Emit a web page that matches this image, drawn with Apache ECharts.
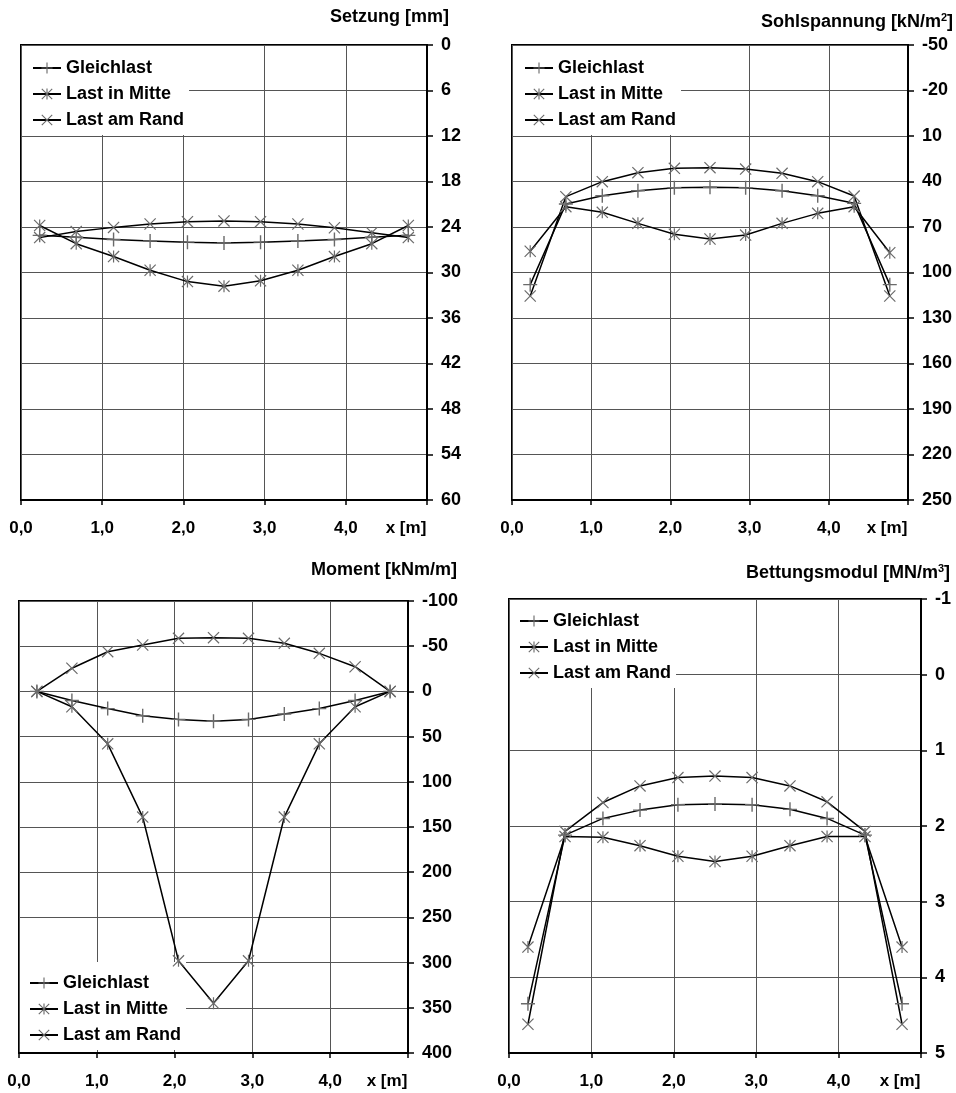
<!DOCTYPE html>
<html>
<head>
<meta charset="utf-8">
<script src="https://cdn.jsdelivr.net/npm/echarts@6/dist/echarts.min.js"></script>
<style>
html,body{margin:0;padding:0;background:#fff;}
#chart{width:956px;height:1093px;}
</style>
</head>
<body>
<div id="chart"></div>
<script>
// ---------- data ----------
const seriesNames = ['Gleichlast', 'Last in Mitte', 'Last am Rand'];
const xs = [0.23, 0.68, 1.14, 1.59, 2.05, 2.50, 2.95, 3.41, 3.86, 4.32, 4.77];
const xTickLabels = ['0,0', '1,0', '2,0', '3,0', '4,0', 'x [m]'];

// Setzung [mm]
const setzGleich = [25.1, 25.35, 25.65, 25.85, 26.0, 26.1, 26.0, 25.85, 25.65, 25.35, 25.1];
const setzMitte  = [23.8, 26.2, 27.9, 29.7, 31.2, 31.8, 31.1, 29.7, 27.9, 26.2, 23.8];
const setzRand   = [25.4, 24.6, 24.05, 23.6, 23.3, 23.2, 23.3, 23.6, 24.1, 24.75, 25.4];
const setzTicks  = [0, 6, 12, 18, 24, 30, 36, 42, 48, 54, 60];

// Sohlspannung [kN/m2]
const sohlGleich = [108, 54.8, 49.4, 46.1, 44.1, 43.8, 44.1, 46.1, 49.4, 54.4, 108];
const sohlMitte  = [86, 56.6, 60.3, 67.6, 74.8, 77.9, 75.3, 67.6, 61.0, 56.6, 87];
const sohlRand   = [115.5, 50.0, 40.1, 34.2, 31.3, 30.9, 31.8, 34.6, 40.1, 49.6, 115.5];
const sohlTicks  = [-50, -20, 10, 40, 70, 100, 130, 160, 190, 220, 250];

// Moment [kNm/m]
const momGleich = [0, 10, 19, 27, 31, 33, 31, 25, 19, 10, 0];
const momMitte  = [0, 17, 58, 139, 298, 345, 298, 139, 58, 17, 0];
const momRand   = [0, -25.6, -43.9, -51.3, -58.7, -59.4, -58.7, -53.2, -42.1, -27.3, 0];
const momTicks  = [-100, -50, 0, 50, 100, 150, 200, 250, 300, 350, 400];

// Bettungsmodul [MN/m3]
const betGleich = [4.35, 2.12, 1.90, 1.79, 1.72, 1.71, 1.72, 1.78, 1.90, 2.12, 4.35];
const betMitte  = [3.60, 2.14, 2.15, 2.26, 2.40, 2.47, 2.40, 2.26, 2.14, 2.14, 3.60];
const betRand   = [4.62, 2.07, 1.69, 1.47, 1.36, 1.34, 1.36, 1.47, 1.68, 2.07, 4.62];
const betTicks  = [-1, 0, 1, 2, 3, 4, 5];

// ---------- styling ----------
const FONT = '"Liberation Sans", Arial, sans-serif';
const PLUS  = 'path://M4.5,0L5.5,0L5.5,10L4.5,10Z M0,4.5L10,4.5L10,5.5L0,5.5Z';
const CROSS = 'path://M0,0.7L0.7,0L10,9.3L9.3,10Z M0.7,10L0,9.3L9.3,0L10,0.7Z';
const STAR  = 'path://M0,0.7L0.7,0L10,9.3L9.3,10Z M0.7,10L0,9.3L9.3,0L10,0.7Z M4.5,0L5.5,0L5.5,10L4.5,10Z';
const symbols = [PLUS, STAR, CROSS];
const symbolSizes = [14, 12, 12];

const panels = [
  {grid: {left: 21, top: 45, width: 406, height: 455}, min: 0, max: 60, ticks: setzTicks, data: [setzGleich, setzMitte, setzRand]},
  {grid: {left: 512, top: 45, width: 396, height: 455}, min: -50, max: 250, ticks: sohlTicks, data: [sohlGleich, sohlMitte, sohlRand]},
  {grid: {left: 19, top: 601, width: 389, height: 452}, min: -100, max: 400, ticks: momTicks, data: [momGleich, momMitte, momRand]},
  {grid: {left: 509, top: 599, width: 412, height: 454}, min: -1, max: 5, ticks: betTicks, data: [betGleich, betMitte, betRand]}
];

const grids = [], xAxes = [], yAxes = [], series = [];
panels.forEach((p, i) => {
  grids.push(Object.assign({show: true, borderColor: '#000', borderWidth: 2, backgroundColor: 'transparent', z: 0}, p.grid));
  xAxes.push({
    type: 'value', gridIndex: i, min: 0, max: 5, interval: 1, z: 0,
    axisLine: {show: true, onZero: false, lineStyle: {color: '#000', width: 2}},
    axisTick: {show: true, length: 5, lineStyle: {color: '#000', width: 1.5}},
    splitLine: {show: true, lineStyle: {color: '#555', width: 1}},
    axisLabel: {
      margin: 20, fontSize: 17, fontWeight: 'bold', color: '#000', fontFamily: FONT,
      showMinLabel: true, showMaxLabel: true,
      formatter: v => {
        const idx = Math.round(v);
        return idx === 5 ? '{u|' + xTickLabels[idx] + '}' : xTickLabels[idx];
      },
      rich: {u: {fontSize: 17, fontWeight: 'bold', color: '#000', fontFamily: FONT, padding: [0, 42, 0, 0]}}
    }
  });
  yAxes.push({
    type: 'value', gridIndex: i, position: 'right', inverse: true, z: 0,
    min: p.min, max: p.max,
    axisLine: {show: true, onZero: false, lineStyle: {color: '#000', width: 2}},
    axisTick: {show: true, length: 6, lineStyle: {color: '#000', width: 1.5}, customValues: p.ticks},
    splitLine: {show: true, lineStyle: {color: '#555', width: 1}},
    axisLabel: {
      margin: 14, fontSize: 18, fontWeight: 'bold', color: '#000', fontFamily: FONT,
      customValues: p.ticks, formatter: v => String(v)
    }
  });
  seriesNames.forEach((name, s) => {
    series.push({
      type: 'line', name: name, xAxisIndex: i, yAxisIndex: i,
      data: xs.map((x, k) => [x, p.data[s][k]]),
      symbol: symbols[s], symbolSize: symbolSizes[s], showSymbol: true,
      lineStyle: {color: '#000', width: 1.5},
      itemStyle: {color: '#6a6a6a'},
      emphasis: {disabled: true},
      animation: false, z: 5
    });
  });
});

const legendBase = {
  orient: 'vertical', data: seriesNames, backgroundColor: '#fff', z: 2,
  itemGap: 8, itemWidth: 28, itemHeight: 14, selectedMode: false,
  textStyle: {fontSize: 18, fontWeight: 'bold', color: '#000', fontFamily: FONT, lineHeight: 18}
};
const legends = [
  Object.assign({}, legendBase, {left: 22, top: 46, padding: [13, 5, 6, 10]}),
  Object.assign({}, legendBase, {left: 513, top: 46, padding: [13, 5, 6, 11]}),
  Object.assign({}, legendBase, {left: 20, top: 962, padding: [12, 5, 6, 9]}),
  Object.assign({}, legendBase, {left: 510, top: 600, padding: [12, 5, 6, 9]})
];

const titleStyle = {fontSize: 18, fontWeight: 'bold', color: '#000', fontFamily: FONT,
  rich: {sup: {fontSize: 11, fontWeight: 'bold', color: '#000', fontFamily: FONT, padding: [0, 0, 10, 0]}}};
const titles = [
  {text: 'Setzung [mm]', right: 507, top: 8},
  {text: 'Sohlspannung [kN/m{sup|2}]', right: 3, top: 12},
  {text: 'Moment [kNm/m]', right: 499, top: 561},
  {text: 'Bettungsmodul [MN/m{sup|3}]', right: 6, top: 563}
].map(t => Object.assign({padding: 0, textStyle: titleStyle}, t));

const chart = echarts.init(document.getElementById('chart'), null, {renderer: 'canvas'});
chart.setOption({
  animation: false,
  backgroundColor: '#fff',
  title: titles,
  legend: legends,
  grid: grids,
  xAxis: xAxes,
  yAxis: yAxes,
  series: series
});
</script>
</body>
</html>
